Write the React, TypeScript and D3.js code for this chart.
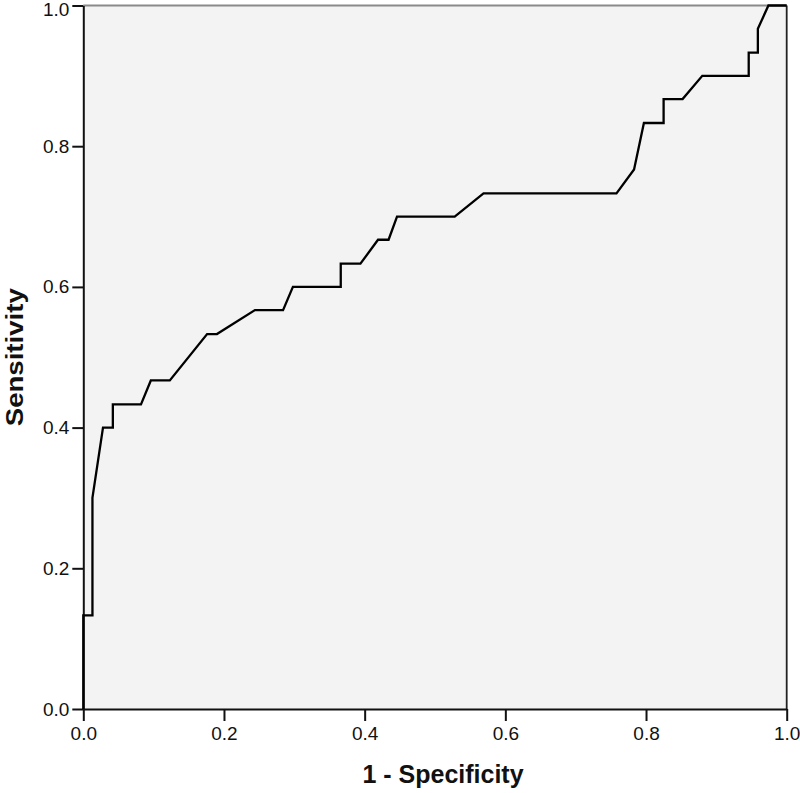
import React, { useRef, useEffect } from 'react';
import { select, scaleLinear, axisLeft, axisBottom, line, format } from 'd3';

// ROC curve (1 - specificity, sensitivity)
const fprValues = [0, 0, 0.013, 0.013, 0.028, 0.042, 0.042, 0.082, 0.096, 0.123, 0.176, 0.19, 0.244, 0.284, 0.298, 0.366, 0.366, 0.394, 0.419, 0.434, 0.446, 0.528, 0.569, 0.758, 0.783, 0.797, 0.825, 0.825, 0.852, 0.88, 0.946, 0.946, 0.959, 0.959, 0.974, 1];
const tprValues = [0, 0.133, 0.133, 0.3, 0.4, 0.4, 0.433, 0.433, 0.467, 0.467, 0.533, 0.533, 0.567, 0.567, 0.6, 0.6, 0.633, 0.633, 0.667, 0.667, 0.7, 0.7, 0.733, 0.733, 0.767, 0.833, 0.833, 0.867, 0.867, 0.9, 0.9, 0.933, 0.933, 0.967, 1, 1];
const tickValues = [0, 0.2, 0.4, 0.6, 0.8, 1.0];

const xTitle = '1 - Specificity';
const yTitle = 'Sensitivity';

const width = 800;
const height = 793;
const margin = { left: 83.3, right: 13.3, top: 5.5, bottom: 84 };
const font = '"Liberation Sans", Arial, sans-serif';

function RocChart() {
  const svgRef = useRef(null);

  useEffect(() => {
    const svg = select(svgRef.current);
    svg.selectAll('*').remove();

    const x = scaleLinear().domain([0, 1]).range([margin.left, width - margin.right]);
    const y = scaleLinear().domain([0, 1]).range([height - margin.bottom, margin.top]);

    // plot background
    svg.append('rect')
      .attr('x', x(0))
      .attr('y', y(1))
      .attr('width', x(1) - x(0))
      .attr('height', y(0) - y(1))
      .attr('fill', '#f3f3f3');

    // top and right frame
    svg.append('line')
      .attr('x1', x(0)).attr('x2', x(1))
      .attr('y1', y(1)).attr('y2', y(1))
      .attr('stroke', '#8a8a8a').attr('stroke-width', 2);
    svg.append('line')
      .attr('x1', x(1)).attr('x2', x(1))
      .attr('y1', y(1)).attr('y2', y(0))
      .attr('stroke', '#222').attr('stroke-width', 1.8);

    const fmt = format('.1f');

    const gx = svg.append('g')
      .attr('transform', `translate(0,${y(0)})`)
      .call(axisBottom(x).tickValues(tickValues).tickFormat(fmt).tickSize(12).tickSizeOuter(0).tickPadding(6));
    const gy = svg.append('g')
      .attr('transform', `translate(${x(0)},0)`)
      .call(axisLeft(y).tickValues(tickValues).tickFormat(fmt).tickSize(11).tickSizeOuter(0).tickPadding(3));

    [gx, gy].forEach(g => {
      g.select('.domain').attr('stroke', '#111').attr('stroke-width', 2);
      g.selectAll('.tick line').attr('stroke', '#111').attr('stroke-width', 2);
      g.selectAll('.tick text')
        .attr('fill', '#111')
        .style('font-family', font)
        .style('font-size', '19px');
    });
    // keep the top label inside the picture
    gy.selectAll('.tick text').filter(d => d === 1).attr('dy', '0.55em');

    // the curve
    const points = fprValues.map((v, i) => [v, tprValues[i]]);
    const path = line().x(d => x(d[0])).y(d => y(d[1]));
    svg.append('path')
      .datum(points)
      .attr('d', path)
      .attr('fill', 'none')
      .attr('stroke', '#000')
      .attr('stroke-width', 2.3)
      .attr('stroke-linejoin', 'miter');

    // axis titles
    svg.append('text')
      .attr('x', (x(0) + x(1)) / 2 + 8)
      .attr('y', 783)
      .attr('text-anchor', 'middle')
      .style('font-family', font)
      .style('font-size', '25px')
      .style('font-weight', 'bold')
      .attr('fill', '#111')
      .text(xTitle);

    svg.append('text')
      .attr('transform', `translate(23,${(y(0) + y(1)) / 2}) rotate(-90)`)
      .attr('text-anchor', 'middle')
      .attr('textLength', 138)
      .attr('lengthAdjust', 'spacingAndGlyphs')
      .style('font-family', font)
      .style('font-size', '24px')
      .style('font-weight', 'bold')
      .attr('fill', '#111')
      .text(yTitle);
  }, []);

  return <svg ref={svgRef} width={width} height={height}></svg>;
}

export default function App() {
  return (
    <div style={{ position: 'absolute', left: 0, top: 0, background: '#fff' }}>
      <RocChart />
    </div>
  );
}
